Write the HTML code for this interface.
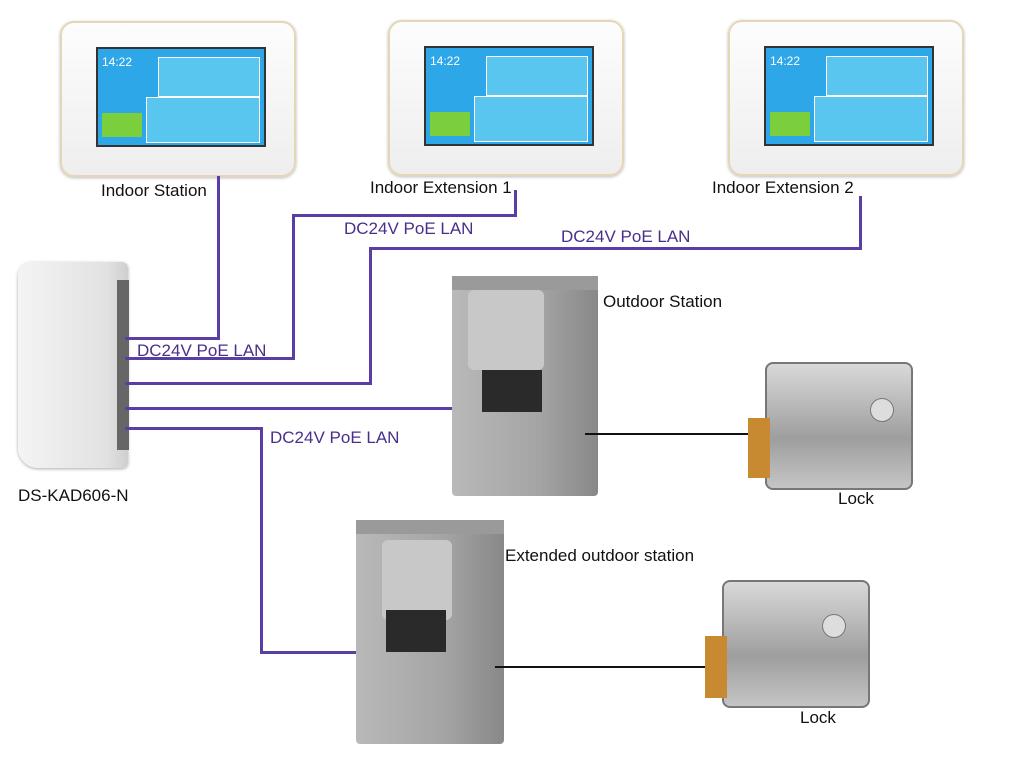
<!DOCTYPE html>
<html><head><meta charset="utf-8"><style>
body{margin:0;width:1024px;height:768px;background:#fff;position:relative;overflow:hidden;font-family:"Liberation Sans",sans-serif}
.a{position:absolute}
.mon{position:absolute;width:232px;height:152px;background:linear-gradient(#fdfdfd,#eeeeee);border:2px solid #e6d6b8;border-radius:14px;box-shadow:0 1px 3px #bbb}
.scr{position:absolute;left:34px;top:24px;width:166px;height:96px;background:#2ea7e8;border:2px solid #333}
.tile{position:absolute;background:#59c6f0;border:1px solid #fff}
.lbl{position:absolute;font-size:17px;color:#111;white-space:nowrap}
.pl{position:absolute;font-size:17px;color:#4a2e8c;white-space:nowrap}
.h{position:absolute;height:3px;background:#5a3ea6}
.v{position:absolute;width:3px;background:#5a3ea6}
.bk{position:absolute;height:2px;background:#111}
.out{position:absolute;background:linear-gradient(90deg,#b9b9b9,#a4a4a4 60%,#888);border-radius:4px}
.lock{position:absolute;background:linear-gradient(#d9d9d9,#9e9e9e 60%,#c5c5c5);border:2px solid #777;border-radius:8px}
</style></head><body>

<div class="mon" style="left:60px;top:21px"><div class="scr"><div class="tile" style="left:60px;top:8px;width:100px;height:38px"></div><div class="tile" style="left:48px;top:48px;width:112px;height:44px"></div><div class="a" style="left:4px;top:64px;width:40px;height:24px;background:#7ccf3c"></div><div class="a" style="left:4px;top:6px;color:#fff;font-size:12px">14:22</div></div></div>
<div class="mon" style="left:388px;top:20px"><div class="scr"><div class="tile" style="left:60px;top:8px;width:100px;height:38px"></div><div class="tile" style="left:48px;top:48px;width:112px;height:44px"></div><div class="a" style="left:4px;top:64px;width:40px;height:24px;background:#7ccf3c"></div><div class="a" style="left:4px;top:6px;color:#fff;font-size:12px">14:22</div></div></div>
<div class="mon" style="left:728px;top:20px"><div class="scr"><div class="tile" style="left:60px;top:8px;width:100px;height:38px"></div><div class="tile" style="left:48px;top:48px;width:112px;height:44px"></div><div class="a" style="left:4px;top:64px;width:40px;height:24px;background:#7ccf3c"></div><div class="a" style="left:4px;top:6px;color:#fff;font-size:12px">14:22</div></div></div>

<div class="lbl" style="left:101px;top:181px">Indoor Station</div>
<div class="lbl" style="left:370px;top:178px">Indoor Extension 1</div>
<div class="lbl" style="left:712px;top:178px">Indoor Extension 2</div>

<div class="a" style="left:18px;top:262px;width:110px;height:206px;background:linear-gradient(90deg,#f4f4f4,#e2e2e2 80%,#cfcfcf);border-radius:14px 6px 6px 20px;box-shadow:0 1px 3px #aaa"></div>
<div class="a" style="left:117px;top:280px;width:12px;height:170px;background:#666"></div>
<div class="lbl" style="left:18px;top:486px">DS-KAD606-N</div>

<div class="v" style="left:217px;top:176px;height:164px"></div>
<div class="h" style="left:125px;top:337px;width:95px"></div>
<div class="v" style="left:514px;top:190px;height:27px"></div>
<div class="h" style="left:292px;top:214px;width:225px"></div>
<div class="v" style="left:292px;top:214px;height:145px"></div>
<div class="h" style="left:125px;top:357px;width:170px"></div>
<div class="v" style="left:859px;top:196px;height:54px"></div>
<div class="h" style="left:369px;top:247px;width:493px"></div>
<div class="v" style="left:369px;top:247px;height:138px"></div>
<div class="h" style="left:125px;top:382px;width:247px"></div>
<div class="h" style="left:125px;top:407px;width:355px"></div>
<div class="h" style="left:125px;top:427px;width:138px"></div>
<div class="v" style="left:260px;top:427px;height:227px"></div>
<div class="h" style="left:260px;top:651px;width:122px"></div>

<div class="pl" style="left:344px;top:219px">DC24V PoE LAN</div>
<div class="pl" style="left:561px;top:227px">DC24V PoE LAN</div>
<div class="pl" style="left:137px;top:341px">DC24V PoE LAN</div>
<div class="pl" style="left:270px;top:428px">DC24V PoE LAN</div>

<div class="out" style="left:452px;top:276px;width:146px;height:220px"></div>
<div class="a" style="left:452px;top:276px;width:146px;height:14px;background:#9a9a9a"></div>
<div class="a" style="left:468px;top:290px;width:76px;height:80px;background:#c8c8c8;border-radius:6px"></div>
<div class="a" style="left:482px;top:370px;width:60px;height:42px;background:#2a2a2a"></div>
<div class="lbl" style="left:603px;top:292px">Outdoor Station</div>
<div class="bk" style="left:585px;top:433px;width:167px"></div>
<div class="lock" style="left:765px;top:362px;width:144px;height:124px"></div>
<div class="a" style="left:870px;top:398px;width:22px;height:22px;border-radius:50%;background:#ddd;border:1px solid #777"></div>
<div class="a" style="left:748px;top:418px;width:22px;height:60px;background:#c88a30"></div>
<div class="lbl" style="left:838px;top:489px">Lock</div>

<div class="out" style="left:356px;top:520px;width:148px;height:224px"></div>
<div class="a" style="left:356px;top:520px;width:148px;height:14px;background:#9a9a9a"></div>
<div class="a" style="left:382px;top:540px;width:70px;height:80px;background:#c8c8c8;border-radius:6px"></div>
<div class="a" style="left:386px;top:610px;width:60px;height:42px;background:#2a2a2a"></div>
<div class="lbl" style="left:505px;top:546px">Extended outdoor station</div>
<div class="bk" style="left:495px;top:666px;width:215px"></div>
<div class="lock" style="left:722px;top:580px;width:144px;height:124px"></div>
<div class="a" style="left:822px;top:614px;width:22px;height:22px;border-radius:50%;background:#ddd;border:1px solid #777"></div>
<div class="a" style="left:705px;top:636px;width:22px;height:62px;background:#c88a30"></div>
<div class="lbl" style="left:800px;top:708px">Lock</div>

</body></html>
